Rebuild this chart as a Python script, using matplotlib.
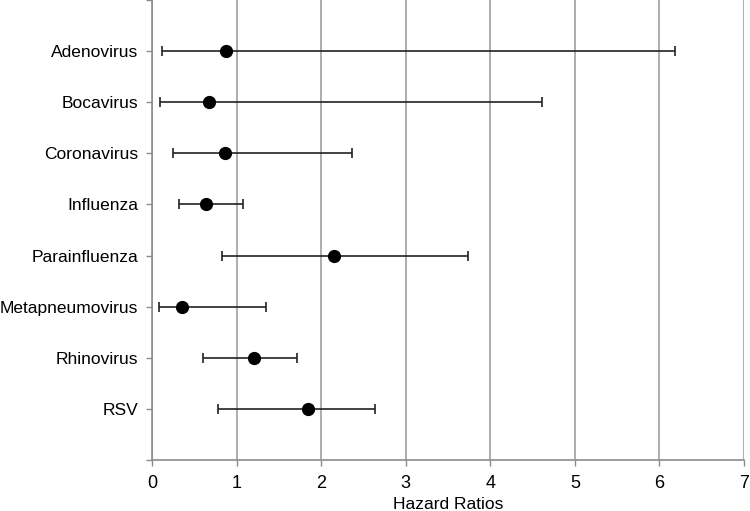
import numpy as np
import matplotlib
matplotlib.use('Agg')
from matplotlib import pyplot as plt

viruses = ['Adenovirus', 'Bocavirus', 'Coronavirus', 'Influenza',
           'Parainfluenza', 'Metapneumovirus', 'Rhinovirus', 'RSV']
hazard = [0.875, 0.67, 0.86, 0.64, 2.15, 0.355, 1.20, 1.84]
ci_low = [0.12, 0.09, 0.245, 0.32, 0.83, 0.08, 0.60, 0.785]
ci_high = [6.18, 4.61, 2.36, 1.075, 3.74, 1.35, 1.71, 2.64]
x_ticks = [0, 1, 2, 3, 4, 5, 6, 7]


def main():
    plt.rcParams['font.family'] = ['Liberation Sans', 'DejaVu Sans']
    fig = plt.figure(figsize=(7.5, 5.11), dpi=100)
    ax = fig.add_axes([0.2027, 0.0998, 0.7893, 0.9002])

    pos = np.arange(1, len(viruses) + 1)
    h = np.array(hazard)
    err = [h - np.array(ci_low), np.array(ci_high) - h]
    ax.errorbar(h, pos, xerr=err, fmt='o', color='black', ecolor='#222222',
                elinewidth=1.2, capsize=3.5, capthick=1.2, markersize=8.5, zorder=3)

    ax.set_xlim(0, 7)
    ax.set_ylim(len(viruses) + 1, 0)
    ax.set_xticks(x_ticks)
    ax.set_yticks(np.arange(0, len(viruses) + 2))
    ax.set_yticklabels([''] + viruses + [''])
    ax.grid(axis='x', color='#a0a0a0', linewidth=1.2, zorder=0)
    ax.set_axisbelow(True)

    for side in ['top', 'right']:
        ax.spines[side].set_visible(False)
    for side in ['left', 'bottom']:
        ax.spines[side].set_color('#8c8c8c')
        ax.spines[side].set_linewidth(1.2)
    ax.tick_params(axis='both', colors='#8c8c8c', labelcolor='black',
                   length=4, width=1)
    ax.tick_params(axis='y', pad=6, labelsize=12.5)
    ax.tick_params(axis='x', pad=6.5, labelsize=13)
    ax.set_xlabel('Hazard Ratios', fontsize=12.5, labelpad=4)

    fig.savefig('out.png', dpi=100)


if __name__ == "__main__":
    main()
